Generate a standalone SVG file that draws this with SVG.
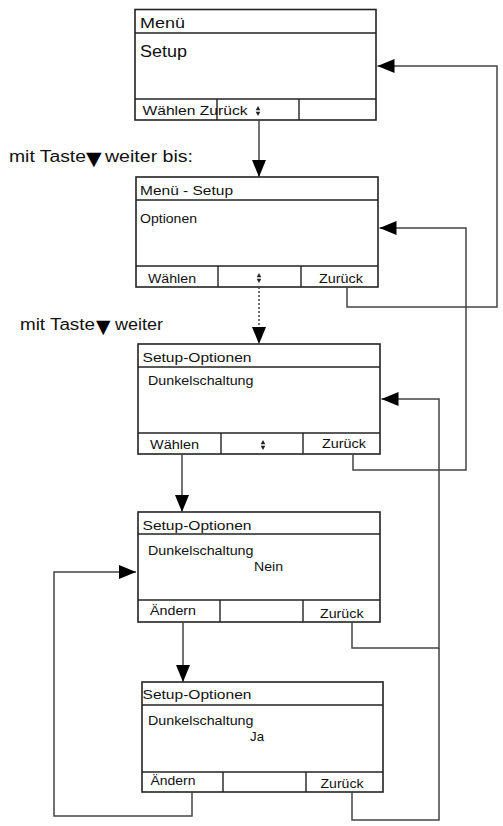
<svg xmlns="http://www.w3.org/2000/svg" xmlns:xlink="http://www.w3.org/1999/xlink" width="503" height="826" viewBox="0 0 503 826">
<style>
.box{fill:#fff;stroke:#222;stroke-width:1.6}
.ln{stroke:#222;stroke-width:1.4;fill:none}
.t{font-family:"Liberation Sans",Arial,sans-serif;fill:#111}
.tri{font-family:"DejaVu Sans",sans-serif;font-size:19px;fill:#000}
.s13{font-size:13px}
.s12{font-size:12px}
.s15{font-size:15.5px}
.s16{font-size:16px}
.conn{fill:none;stroke:#444;stroke-width:1.5}
.dash{stroke-dasharray:2 2}
</style>
<defs>
<marker id="ah" markerUnits="userSpaceOnUse" markerWidth="18" markerHeight="15" refX="17" refY="7" orient="auto">
<path d="M0,0 L17,7 L0,14 z" fill="#000"/>
</marker>
<g id="updown"><path d="M0,0 L2.3,4.3 L-2.3,4.3 z M-2.3,5.7 L2.3,5.7 L0,10 z" fill="#222"/></g>
</defs>

<g id="label1">
<text class="t s16" x="9" y="162" textLength="77" lengthAdjust="spacingAndGlyphs">mit Taste</text>
<text class="tri" x="86" y="165" textLength="15.7" lengthAdjust="spacingAndGlyphs">▼</text>
<text class="t s16" x="105" y="162" textLength="88" lengthAdjust="spacingAndGlyphs">weiter bis:</text>
</g>
<g id="label2">
<text class="t s16" x="20" y="330" textLength="75" lengthAdjust="spacingAndGlyphs">mit Taste</text>
<text class="tri" x="96" y="333" textLength="14.5" lengthAdjust="spacingAndGlyphs">▼</text>
<text class="t s16" x="115" y="330" textLength="48" lengthAdjust="spacingAndGlyphs">weiter</text>
</g>

<g id="screen1">
<rect class="box" x="135" y="9.5" width="241" height="110.5"/>
<line class="ln" x1="135" y1="33" x2="376" y2="33"/>
<line class="ln" x1="135" y1="99" x2="376" y2="99"/>
<line class="ln" x1="217" y1="99" x2="217" y2="120"/>
<line class="ln" x1="299" y1="99" x2="299" y2="120"/>
<text class="t s15" x="140" y="27.5" textLength="45" lengthAdjust="spacingAndGlyphs">Menü</text>
<text class="t s16" x="140" y="57" textLength="47" lengthAdjust="spacingAndGlyphs">Setup</text>
<text class="t s13" x="142.5" y="115" textLength="105" lengthAdjust="spacingAndGlyphs">Wählen Zurück</text>
<use xlink:href="#updown" x="258" y="106"/>
</g>

<g id="screen2">
<rect class="box" x="136" y="177" width="242" height="110"/>
<line class="ln" x1="136" y1="200" x2="378" y2="200"/>
<line class="ln" x1="136" y1="266" x2="378" y2="266"/>
<line class="ln" x1="218" y1="266" x2="218" y2="287"/>
<line class="ln" x1="301" y1="266" x2="301" y2="287"/>
<text class="t s13" x="140" y="195" textLength="93" lengthAdjust="spacingAndGlyphs">Menü - Setup</text>
<text class="t s12" x="140" y="222.5" textLength="57" lengthAdjust="spacingAndGlyphs">Optionen</text>
<text class="t s13" x="148" y="283" textLength="48" lengthAdjust="spacingAndGlyphs">Wählen</text>
<text class="t s13" x="319" y="283" textLength="44" lengthAdjust="spacingAndGlyphs">Zurück</text>
<use xlink:href="#updown" x="259" y="273"/>
</g>

<g id="screen3">
<rect class="box" x="138" y="344" width="242" height="110"/>
<line class="ln" x1="138" y1="367" x2="380" y2="367"/>
<line class="ln" x1="138" y1="433" x2="380" y2="433"/>
<line class="ln" x1="221" y1="433" x2="221" y2="454"/>
<line class="ln" x1="303" y1="433" x2="303" y2="454"/>
<text class="t s13" x="142.5" y="362" textLength="109" lengthAdjust="spacingAndGlyphs">Setup-Optionen</text>
<text class="t s13" x="148" y="385" textLength="105.5" lengthAdjust="spacingAndGlyphs">Dunkelschaltung</text>
<text class="t s13" x="150" y="448.5" textLength="49" lengthAdjust="spacingAndGlyphs">Wählen</text>
<text class="t s13" x="322" y="448" textLength="44" lengthAdjust="spacingAndGlyphs">Zurück</text>
<use xlink:href="#updown" x="263" y="440"/>
</g>

<g id="screen4">
<rect class="box" x="138" y="512" width="242" height="110"/>
<line class="ln" x1="138" y1="534" x2="380" y2="534"/>
<line class="ln" x1="138" y1="600" x2="380" y2="600"/>
<line class="ln" x1="220" y1="600" x2="220" y2="622"/>
<line class="ln" x1="303" y1="600" x2="303" y2="622"/>
<text class="t s13" x="142.5" y="530" textLength="109" lengthAdjust="spacingAndGlyphs">Setup-Optionen</text>
<text class="t s13" x="148" y="555" textLength="105.5" lengthAdjust="spacingAndGlyphs">Dunkelschaltung</text>
<text class="t s13" x="254" y="571" textLength="29" lengthAdjust="spacingAndGlyphs">Nein</text>
<text class="t s13" x="150" y="615" textLength="46" lengthAdjust="spacingAndGlyphs">Ändern</text>
<text class="t s13" x="320" y="618" textLength="43.5" lengthAdjust="spacingAndGlyphs">Zurück</text>
</g>

<g id="screen5">
<rect class="box" x="142" y="682" width="241" height="110"/>
<line class="ln" x1="142" y1="705" x2="383" y2="705"/>
<line class="ln" x1="142" y1="772" x2="383" y2="772"/>
<line class="ln" x1="223" y1="772" x2="223" y2="792"/>
<line class="ln" x1="306" y1="772" x2="306" y2="792"/>
<text class="t s13" x="142.5" y="699" textLength="109" lengthAdjust="spacingAndGlyphs">Setup-Optionen</text>
<text class="t s13" x="148" y="725" textLength="105.5" lengthAdjust="spacingAndGlyphs">Dunkelschaltung</text>
<text class="t s13" x="250" y="741" textLength="14" lengthAdjust="spacingAndGlyphs">Ja</text>
<text class="t s13" x="150.5" y="785" textLength="45" lengthAdjust="spacingAndGlyphs">Ändern</text>
<text class="t s13" x="320.5" y="788" textLength="43" lengthAdjust="spacingAndGlyphs">Zurück</text>
</g>

<g id="connectors">
<path class="conn" d="M259,120 V177" marker-end="url(#ah)"/>
<path class="conn dash" d="M259,287 V344" marker-end="url(#ah)"/>
<path class="conn" d="M182,454 V512" marker-end="url(#ah)"/>
<path class="conn" d="M183,622 V682" marker-end="url(#ah)"/>
<path class="conn" d="M192,792 V816 H54 V572 H136" marker-end="url(#ah)"/>
<path class="conn" d="M347,287 V307 H497 V66 H377.5" marker-end="url(#ah)"/>
<path class="conn" d="M353,454 V470 H466 V228 H379.5" marker-end="url(#ah)"/>
<path class="conn" d="M352,622 V648 H439 V399 H381.5" marker-end="url(#ah)"/>
<path class="conn" d="M352,792 V820 H439 V648"/>
</g>
</svg>
